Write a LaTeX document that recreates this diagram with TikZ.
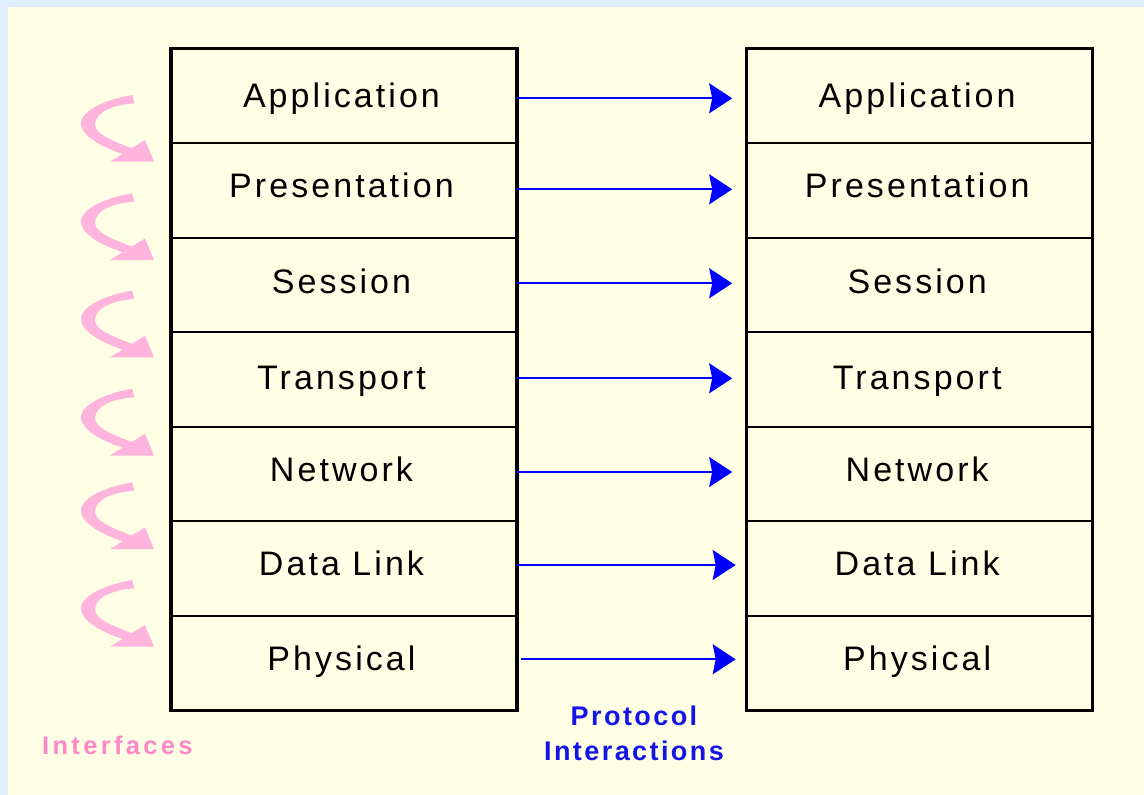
\documentclass[tikz,border=0pt]{standalone}
\usepackage{fontspec}
\setmainfont{Liberation Sans}
\newfontfamily\lblfont[LetterSpace=9]{Liberation Sans}
\newfontfamily\capfont[LetterSpace=9]{Liberation Sans}
\newfontfamily\ifcfont[LetterSpace=13]{Liberation Sans}
\usetikzlibrary{arrows.meta}
\definecolor{bgyellow}{RGB}{255,255,230}
\definecolor{bgblue}{RGB}{225,240,254}
\definecolor{pinkarrow}{RGB}{255,180,222}
\definecolor{pinktext}{RGB}{255,135,200}
\definecolor{protoblue}{RGB}{0,0,255}
\definecolor{protext}{RGB}{20,20,230}
\tikzset{
  layer/.style={draw=black, line width=2pt, outer sep=0pt, inner sep=0pt,
    minimum width=346pt, minimum height=94.6pt,
    font=\lblfont\fontsize{34}{36}\selectfont, text height=24.4pt},
  proto/.style={draw=protoblue, line width=2pt,
    -{Stealth[length=23pt,width=30pt,inset=3pt]}},
  iface/.pic={
    \fill[pinkarrow] (-21.7,-66.7) .. controls (-45,-63) and (-73,-52) .. (-73,-38.3)
      .. controls (-73,-24) and (-45,-10) .. (-14,-3) -- (-14,-10)
      .. controls (-35,-19) and (-59,-26) .. (-59,-37)
      .. controls (-59,-50) and (-40,-57) .. (-19.7,-58.3) -- cycle;
    \fill[pinkarrow] (-44,0) -- (0,0) -- (-9,-21.7) -- cycle;},
  capt/.style={font=\capfont\bfseries\fontsize{27}{35}\selectfont, align=center, inner sep=0pt}
}
\begin{document}
\begin{tikzpicture}[x=1pt,y=-1pt]
\fill[bgblue] (0,0) rectangle (1144,795);
\fill[bgyellow] (8,7) rectangle (1144,795);
\useasboundingbox (0,0) rectangle (1144,795);
\foreach \t/\d [count=\i] in {Application/0,Presentation/9.4,Session/7,Transport/4.8,Network/9,Data Link/11.6,Physical/10.8} {
  \node[layer, text depth=\d pt] (L\i) at (344, {48.3+94.6*(\i-0.5)}) {\kern-5pt\t};
  \node[layer, text depth=\d pt] (R\i) at (919.7, {48.3+94.6*(\i-0.5)}) {\kern-5pt\t};
}
\draw[line width=3.5pt] (L1.north west) rectangle (L7.south east);
\draw[line width=3.5pt] (R1.north west) rectangle (R7.south east);
\foreach \i/\dy/\sa/\sb in {1/-2.7/0/14.5, 2/0.9/0/14.5, 3/1.5/0/14.5, 4/1.1/0/14.5, 5/2/0/14.5, 6/3.6/0/11, 7/3.9/4.4/11} {
  \draw[proto, shorten <=\sa pt, shorten >=\sb pt] ([yshift=\dy pt]L\i.east) -- ([yshift=\dy pt]R\i.west);
}
\foreach \ty in {161.7, 260, 357.3, 455.5, 549, 646.7} {
  \pic at (154,\ty) {iface};
}
\node[font=\ifcfont\bfseries\fontsize{25.5}{30}\selectfont, text=pinktext,
  anchor=base west, inner sep=0pt] (ifl) at (42,754) {Interfaces};
\node[capt, text=protext, anchor=base] (pl1) at (634,725) {Protocol};
\node[capt, text=protext, anchor=base] (pl2) at (634,760) {Interactions};
\end{tikzpicture}
\end{document}
